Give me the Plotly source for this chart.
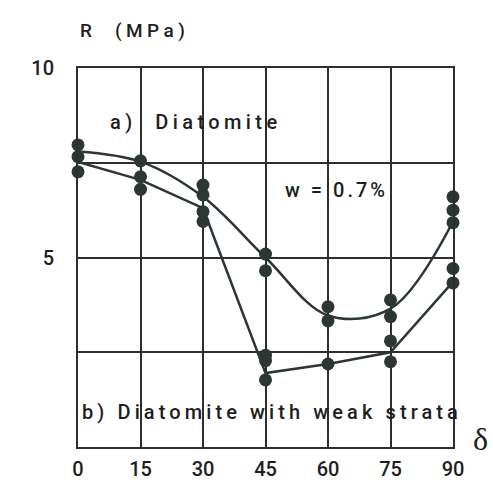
import plotly.graph_objects as go

# ---- data ----
dots_x = [0, 0, 0, 15, 15, 15, 30, 30, 30, 30, 45, 45, 45, 45, 45, 60, 60, 60, 75, 75, 75, 75, 90, 90, 90, 90, 90]
dots_y = [7.97, 7.66, 7.26, 7.55, 7.13, 6.80, 6.91, 6.65, 6.21, 5.95, 5.09, 4.65, 2.42, 2.28, 1.77,
          3.70, 3.33, 2.19, 3.88, 3.44, 2.80, 2.25, 6.60, 6.25, 5.92, 4.71, 4.33]

a_x = [0, 15, 30, 45, 60, 75, 90]
a_y = [7.80, 7.53, 6.60, 5.00, 3.47, 3.65, 5.95]

b_x = [0, 15, 30, 45, 60, 75, 90]
b_y = [7.52, 7.05, 6.30, 1.95, 2.19, 2.50, 4.36]

x_ticks = [0, 15, 30, 45, 60, 75, 90]
x_ticktext = ["0", "15", "30", "45", "60", "75", "90"]
y_ticks = [0, 2.5, 5, 7.5, 10]
y_ticktext = ["", "", "5", "", "10"]

INK = "#2c3633"
GRID = "#2e2e2e"
TXT = "#1e1e1e"
FONT = "Roboto"


def spaced(s, sp=3):
    return f'<span style="letter-spacing:{sp}px">{s}</span>'


fig = go.Figure()
fig.add_trace(go.Scatter(x=a_x, y=a_y, mode="lines", line=dict(color=INK, width=2.5, shape="spline", smoothing=1.0),
                         cliponaxis=False, showlegend=False, hoverinfo="skip"))
fig.add_trace(go.Scatter(x=b_x, y=b_y, mode="lines", line=dict(color=INK, width=2.5),
                         cliponaxis=False, showlegend=False, hoverinfo="skip"))
fig.add_trace(go.Scatter(x=dots_x, y=dots_y, mode="markers", marker=dict(color=INK, size=13),
                         cliponaxis=False, showlegend=False))

tickfont = dict(size=20, color=TXT, family=FONT, weight=500)

fig.update_layout(
    width=493, height=480,
    margin=dict(l=78, r=40, t=68, b=33, autoexpand=False),
    paper_bgcolor="white", plot_bgcolor="white",
    font=dict(family=FONT, color=TXT, weight=500),
    xaxis=dict(range=[0, 90], tickvals=x_ticks, ticktext=x_ticktext, tickangle=0, automargin=False,
               showgrid=True, gridcolor=GRID, gridwidth=2, zeroline=False,
               showline=True, linecolor=GRID, linewidth=2, mirror=True,
               ticks="", ticklabelstandoff=3, tickfont=tickfont),
    yaxis=dict(range=[0, 10], tickvals=y_ticks, ticktext=y_ticktext, automargin=False,
               showgrid=True, gridcolor=GRID, gridwidth=2, zeroline=False,
               showline=True, linecolor=GRID, linewidth=2, mirror=True,
               ticks="", ticklabelstandoff=18, tickfont=tickfont),
)

fig.add_annotation(x=0, y=1.10, xref="paper", yref="paper", xanchor="left", yanchor="middle",
                   text=spaced("R  (MPa)", 4.5), showarrow=False, font=dict(size=19, color=TXT, weight=500))
fig.add_annotation(x=7.2, y=8.58, xanchor="left", yanchor="middle",
                   text=spaced("a)  Diatomite", 4.4), showarrow=False, font=dict(size=20, color=TXT, weight=500))
fig.add_annotation(x=49.2, y=6.78, xanchor="left", yanchor="middle",
                   text=spaced("w = 0.7%", 3), showarrow=False, font=dict(size=20, color=TXT, weight=500))
fig.add_annotation(x=0.5, y=0.92, xanchor="left", yanchor="middle",
                   text=spaced("b) Diatomite with weak strata", 4.1), showarrow=False,
                   font=dict(size=20, color=TXT, weight=500))
fig.add_annotation(x=1.072, y=0.02, xref="paper", yref="paper", xanchor="center", yanchor="middle",
                   text="δ", showarrow=False, font=dict(size=32, family="Liberation Serif", color=TXT))

fig.write_html("out.html")
